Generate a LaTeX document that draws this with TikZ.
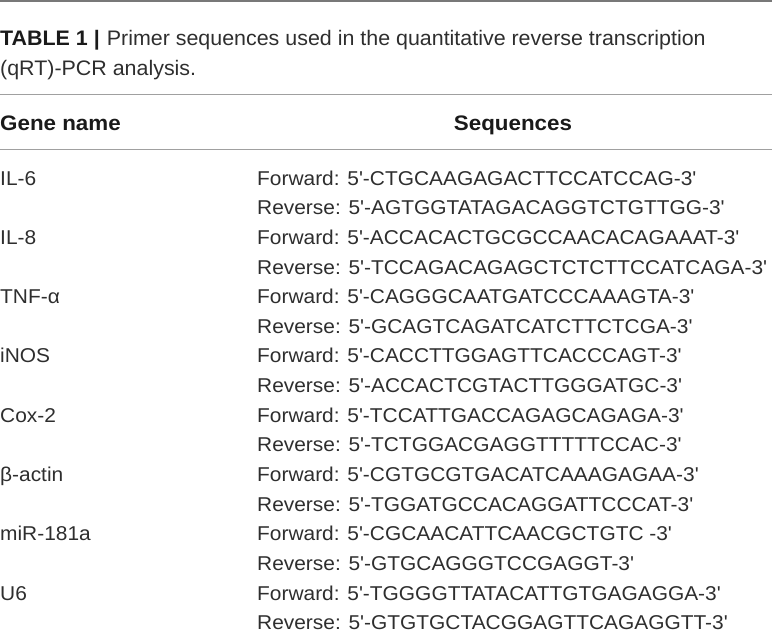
\documentclass[tikz,border=0pt]{standalone}
\usepackage{fontspec}
\newfontfamily\tabfont{Liberation Sans}[FakeStretch=1.045]
\newfontfamily\titfont{Liberation Sans}[FakeStretch=1.02]
\newfontfamily\hdrfont{Liberation Sans}[FakeStretch=1.065]
\definecolor{textc}{HTML}{2E2E2E}
\definecolor{boldc}{HTML}{1A1A1A}
\definecolor{rulec}{HTML}{A0A0A0}
\tikzset{
  txt/.style={anchor=base west, inner sep=0pt, text=textc, font=\tabfont\fontsize{20}{24}\selectfont},
  tit/.style={txt, font=\titfont\fontsize{21}{25}\selectfont},
  hdr/.style={txt, text=boldc, font=\hdrfont\bfseries\fontsize{21}{25}\selectfont},
  rulel/.style={draw=rulec, line width=1pt}
}
\begin{document}
\begin{tikzpicture}[x=1pt,y=-1pt]
\useasboundingbox (0,0) rectangle (772,635);
% rules
\coordinate (r0l) at (0,1); \coordinate (r0r) at (772,1);
\coordinate (r1l) at (0,94); \coordinate (r1r) at (772,94);
\coordinate (r2l) at (0,149); \coordinate (r2r) at (772,149);
\draw[rulel, line width=1.5pt, draw=rulec!75!black] (r0l) -- (r0r);
\draw[rulel] (r1l) -- (r1r);
\draw[rulel] (r2l) -- (r2r);
% title
\node[tit] (t1) at (0,45) {\textcolor{boldc}{\bfseries TABLE 1}\hspace{6pt}\textcolor{boldc}{\bfseries |}\hspace{7pt}Primer sequences used in the quantitative reverse transcription};
\node[tit] (t2) at (0,75) {(qRT)-PCR analysis.};
% header
\node[hdr] (hg) at (0,130) {Gene name};
\node[hdr, anchor=base] (hs) at (513,130) {Sequences};
% rows
\foreach \g/\f/\r [count=\i from 0] in {
  IL-6/CTGCAAGAGACTTCCATCCAG/AGTGGTATAGACAGGTCTGTTGG,
  IL-8/ACCACACTGCGCCAACACAGAAAT/TCCAGACAGAGCTCTCTTCCATCAGA,
  TNF-α/CAGGGCAATGATCCCAAAGTA/GCAGTCAGATCATCTTCTCGA,
  iNOS/CACCTTGGAGTTCACCCAGT/ACCACTCGTACTTGGGATGC,
  Cox-2/TCCATTGACCAGAGCAGAGA/TCTGGACGAGGTTTTTCCAC,
  β-actin/CGTGCGTGACATCAAAGAGAA/TGGATGCCACAGGATTCCCAT,
  miR-181a/CGCAACATTCAACGCTGTC /GTGCAGGGTCCGAGGT,
  U6/TGGGGTTATACATTGTGAGAGGA/GTGTGCTACGGAGTTCAGAGGTT}
{
  \node[txt] (g\i) at (0,185+59.33*\i) {\g};
  \node[txt] (f\i) at (257,185+59.33*\i) {Forward: 5'-\f-3'};
  \node[txt] (v\i) at (257,214.67+59.33*\i) {Reverse: 5'-\r-3'};
}
\end{tikzpicture}
\end{document}
